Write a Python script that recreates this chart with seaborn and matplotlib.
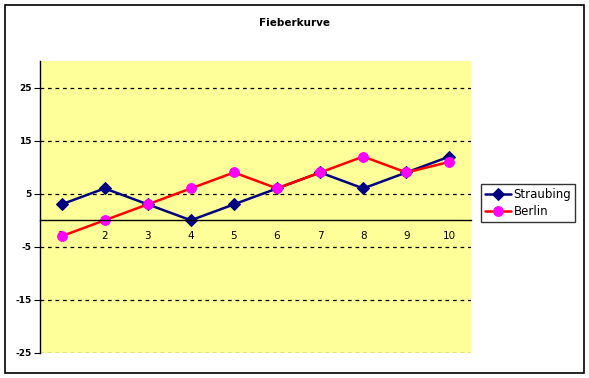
import pandas as pd
import seaborn as sns
import matplotlib.pyplot as plt
from matplotlib.patches import Rectangle

# Werte der Fieberkurve
tage = [1, 2, 3, 4, 5, 6, 7, 8, 9, 10]
straubing = [3, 6, 3, 0, 3, 6, 9, 6, 9, 12]
berlin = [-3, 0, 3, 6, 9, 6, 9, 12, 9, 11]
y_ticks = [-25, -15, -5, 5, 15, 25]

df = pd.DataFrame({'Tag': tage, 'Straubing': straubing, 'Berlin': berlin})

sns.set_style('white')
plt.rcParams['font.family'] = ['DejaVu Sans']
plt.rcParams['text.color'] = 'black'
plt.rcParams['xtick.color'] = 'black'
plt.rcParams['ytick.color'] = 'black'
plt.rcParams['xtick.labelcolor'] = 'black'
plt.rcParams['ytick.labelcolor'] = 'black'

fig = plt.figure(figsize=(5.89, 3.78), dpi=100)
ax = fig.add_axes([40 / 589, 1 - 353 / 378, 431 / 589, 292 / 378])
ax.set_facecolor('#FFFF99')

sns.lineplot(data=df, x='Tag', y='Straubing', ax=ax, color='#000080', lw=1.8,
             marker='D', markersize=6, markeredgecolor='#000080', label='Straubing')
sns.lineplot(data=df, x='Tag', y='Berlin', ax=ax, color='#FF0000', lw=1.8,
             marker='o', markersize=7, markerfacecolor='#FF00FF',
             markeredgecolor='#FF00FF', label='Berlin')

ax.set_xlim(0.5, 10.5)
ax.set_ylim(-25, 30)
ax.set_yticks(y_ticks)
ax.set_yticklabels([str(v) for v in y_ticks], fontsize=6.5, fontweight='bold')
for v in y_ticks:
    ax.axhline(v, color='black', lw=0.9, ls=(0, (3, 3)), zorder=1)

# x-Achse kreuzt bei 0
ax.spines['bottom'].set_position(('data', 0))
for s in ['top', 'right']:
    ax.spines[s].set_visible(False)
ax.spines['left'].set_color('black')
ax.spines['bottom'].set_color('black')
ax.spines['left'].set_linewidth(1)
ax.spines['bottom'].set_linewidth(1)

ax.set_xticks(tage)
ax.set_xticklabels([str(t) for t in tage], fontsize=7.5)
ax.set_xticks([t + 0.5 for t in tage[:-1]], minor=True)
ax.tick_params(axis='x', which='major', length=0, pad=8)
ax.tick_params(axis='x', which='minor', length=4, direction='out', color='black')
ax.tick_params(axis='y', length=4, direction='out', color='black', left=True, pad=2)
ax.set_xlabel('')
ax.set_ylabel('')

ax.get_legend().remove()
handles, labels = ax.get_legend_handles_labels()
fig.legend(handles, labels, loc='upper left', bbox_to_anchor=(481 / 589, 1 - 184 / 378),
           frameon=True, fancybox=False, edgecolor='black', fontsize=8.5,
           handlelength=2.2, borderpad=0.35, labelspacing=0.3, handletextpad=0.2,
           borderaxespad=0)

fig.text(0.5, 1 - 23 / 378, 'Fieberkurve', ha='center', va='center',
         fontsize=7.5, fontweight='bold', color='black')

fig.patches.append(Rectangle((5 / 589, 5 / 378), 579 / 589, 368 / 378,
                             transform=fig.transFigure, fill=False,
                             edgecolor='black', lw=1.2))

fig.savefig('out.png', dpi=100)
